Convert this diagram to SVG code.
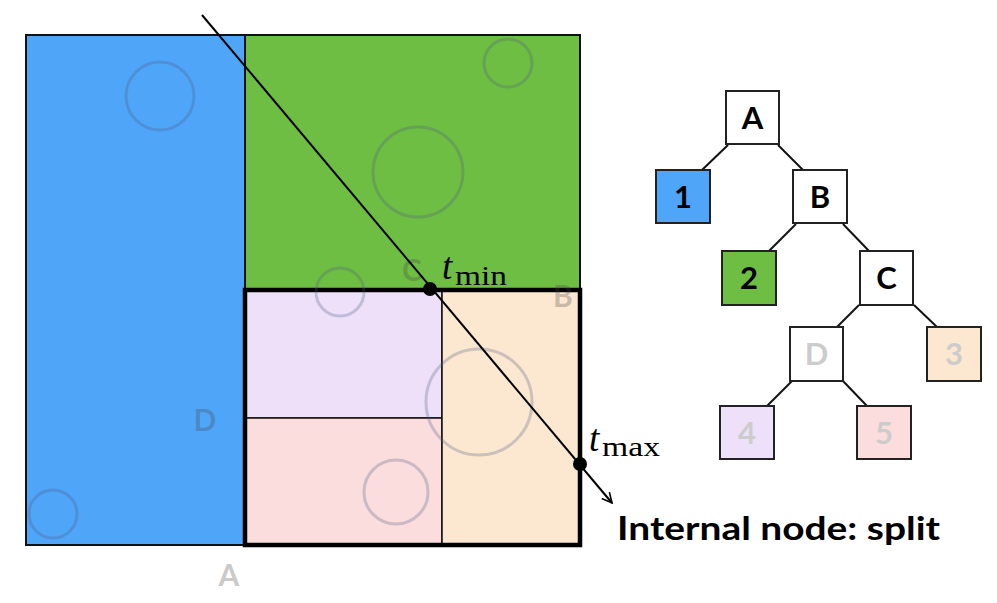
<svg xmlns="http://www.w3.org/2000/svg" width="997" height="603" viewBox="0 0 997 603">
<style>
.cell{stroke:#111;stroke-width:2}
.circ{fill:none;stroke:#4a5a80;stroke-opacity:0.27;stroke-width:3}
.lbl{font-family:Lato,"Open Sans",sans-serif;font-weight:bold;font-size:30px;fill:#444;fill-opacity:0.3;text-anchor:middle}
.node rect{stroke:#222;stroke-width:2}
.node text{font-family:Lato,"Open Sans",sans-serif;font-weight:bold;font-size:31px;text-anchor:middle}
.dk{fill:#000}
.lt{fill:#cccccc}
.edge{stroke:#111;stroke-width:2}
.math{font-family:"Liberation Serif","DejaVu Serif",serif;fill:#000}
</style>
<defs>
<marker id="arr" viewBox="0 0 12 12" refX="11" refY="6" markerWidth="12" markerHeight="12" markerUnits="userSpaceOnUse" orient="auto">
<polyline points="1,1 11,6 1,11" fill="none" stroke="#000" stroke-width="1.6"/>
</marker>
</defs>
<rect width="997" height="603" fill="#fff"/>
<g id="scene">
<rect class="cell" x="26" y="35" width="219" height="510" fill="#4fa5f8"/>
<rect class="cell" x="245" y="35" width="335" height="255" fill="#6fbe44"/>
<rect x="245" y="290" width="197" height="128" fill="#ede0f8" stroke="#111" stroke-width="1.5"/>
<rect x="245" y="418" width="197" height="127" fill="#fcdddd" stroke="#111" stroke-width="1.5"/>
<rect x="442" y="290" width="138" height="255" fill="#fce7d0" stroke="#111" stroke-width="1.5"/>
<rect x="245" y="290" width="335" height="255" fill="none" stroke="#000" stroke-width="4.5"/>
<circle class="circ" cx="160" cy="96" r="34"/>
<circle class="circ" cx="53" cy="514" r="24"/>
<circle class="circ" cx="508" cy="63" r="24"/>
<circle class="circ" cx="418" cy="172" r="45"/>
<circle class="circ" cx="340" cy="292" r="24"/>
<circle class="circ" cx="479" cy="402" r="53"/>
<circle class="circ" cx="396" cy="492" r="32"/>
<text class="lbl" x="412" y="281">C</text>
<text class="lbl" x="563" y="307">B</text>
<text class="lbl" x="205" y="431">D</text>
<text class="lbl" x="229" y="586">A</text>
<line x1="202" y1="15" x2="612" y2="503" stroke="#000" stroke-width="2" marker-end="url(#arr)"/>
<circle cx="430" cy="289" r="7" fill="#000"/>
<circle cx="580" cy="464" r="7" fill="#000"/>
<text class="math" x="442" y="279" font-size="37" font-style="italic">t</text>
<text class="math" x="455" y="285" font-size="27" textLength="52" lengthAdjust="spacingAndGlyphs">min</text>
<text class="math" x="589" y="451" font-size="37" font-style="italic">t</text>
<text class="math" x="602" y="456" font-size="27" textLength="58" lengthAdjust="spacingAndGlyphs">max</text>
<text x="617" y="540" font-family="Lato,'Open Sans',sans-serif" font-weight="bold" font-size="32" fill="#000" textLength="323" lengthAdjust="spacingAndGlyphs">Internal node: split</text>
</g>
<g id="edges">
<line class="edge" x1="728" y1="145" x2="702" y2="170"/>
<line class="edge" x1="778" y1="145" x2="803" y2="170"/>
<line class="edge" x1="796" y1="224" x2="769" y2="251"/>
<line class="edge" x1="843" y1="224" x2="869" y2="251"/>
<line class="edge" x1="859" y1="305" x2="837" y2="327"/>
<line class="edge" x1="914" y1="305" x2="937" y2="327"/>
<line class="edge" x1="792" y1="381" x2="767" y2="406"/>
<line class="edge" x1="843" y1="381" x2="867" y2="406"/>
</g>
<g id="nA" class="node"><rect x="726" y="91" width="53" height="53" fill="#fff"/><text class="dk" x="752.5" y="128.5">A</text></g>
<g id="n1" class="node"><rect x="656" y="170" width="54" height="53" fill="#4fa5f8"/><text class="dk" x="683" y="207.5">1</text></g>
<g id="nB" class="node"><rect x="793" y="170" width="54" height="53" fill="#fff"/><text class="dk" x="820" y="207.5">B</text></g>
<g id="n2" class="node"><rect x="722" y="251" width="54" height="54" fill="#6fbe44"/><text class="dk" x="749" y="289">2</text></g>
<g id="nC" class="node"><rect x="860" y="251" width="53" height="54" fill="#fff"/><text class="dk" x="886.5" y="289">C</text></g>
<g id="nD" class="node"><rect x="790" y="327" width="53" height="54" fill="#fff"/><text class="lt" x="816.5" y="365">D</text></g>
<g id="n3" class="node"><rect x="927" y="327" width="54" height="54" fill="#fce7d0"/><text class="lt" x="954" y="365">3</text></g>
<g id="n4" class="node"><rect x="720" y="406" width="54" height="53" fill="#ede0f8"/><text class="lt" x="747" y="443.5">4</text></g>
<g id="n5" class="node"><rect x="857" y="406" width="54" height="53" fill="#fcdddd"/><text class="lt" x="884" y="443.5">5</text></g>
</svg>
